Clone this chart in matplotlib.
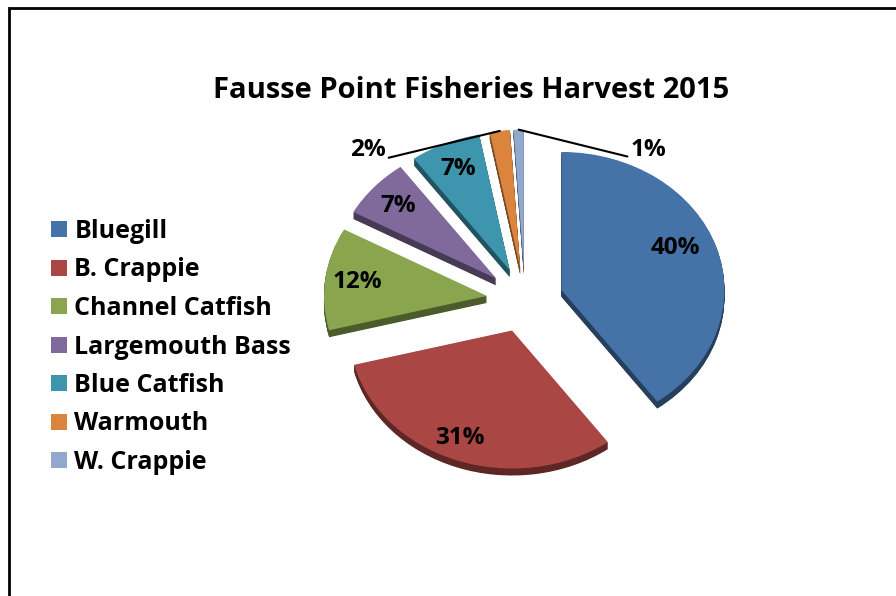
import matplotlib
matplotlib.use("Agg")
import matplotlib.pyplot as plt
from matplotlib.colors import to_rgb
import numpy as np

# Harvest composition (percent of total)
species = ["Bluegill", "B. Crappie", "Channel Catfish", "Largemouth Bass",
           "Blue Catfish", "Warmouth", "W. Crappie"]
harvest_pct = [40, 31, 12, 7, 7, 2, 1]
colors = ["#4572A7", "#AA4643", "#89A54E", "#80699B", "#3D96AE", "#DB843D", "#92A8CD"]
title = "Fausse Point Fisheries Harvest 2015"

FONT = ["Open Sans", "DejaVu Sans"]
W, H = 896, 596
fig = plt.figure(figsize=(W / 100, H / 100), dpi=100)

# Outer frame (pixel coordinates)
bg = fig.add_axes([0, 0, 1, 1])
bg.set_xlim(0, W)
bg.set_ylim(H, 0)
bg.axis("off")
bg.plot([8.5, 8.5, W + 5], [H + 5, 7.5, 7.5], color="black", lw=2.0,
        solid_joinstyle="miter")

bg.text(471, 90, title, ha="center", va="center", fontsize=21,
        fontweight="bold", family=FONT)

# Tilted, exploded pie: an axes with unequal x/y scale squashes the circle
cx, cy = 525, 300      # pie centre in pixels
rx, ry = 163, 138      # horizontal / vertical radius in pixels
lim = 1.6
ax = fig.add_axes([(cx - rx * lim) / W, (H - cy - ry * lim) / H,
                   2 * rx * lim / W, 2 * ry * lim / H])
explode = [0.235] * len(harvest_pct)

# Side walls: stacked darker copies shifted downward
depth = 7 / ry
nlayers = 12
side_colors = [tuple(np.array(to_rgb(c)) * 0.55) for c in colors]
for i in range(nlayers, 0, -1):
    ax.pie(harvest_pct, startangle=90, counterclock=False, explode=explode,
           colors=side_colors, center=(0, -depth * i / nlayers))

wedges, texts, autotexts = ax.pie(
    harvest_pct, startangle=90, counterclock=False, explode=explode,
    colors=colors, autopct=lambda p: f"{p:.0f}%" if p >= 5 else "",
    pctdistance=0.8,
    textprops=dict(fontsize=17.5, fontweight="bold", family=FONT, color="black"))

# Nudge the two large-slice labels
autotexts[0].set_position((0.92, 0.375))
autotexts[1].set_position((-0.40, -1.0))

ax.set_aspect("auto")
ax.set_xlim(-lim, lim)
ax.set_ylim(-lim, lim)
ax.axis("off")

# Small slices: labels outside with leader lines
total = float(sum(harvest_pct))
bounds = 90 - 360 * np.cumsum([0] + harvest_pct) / total
for idx, txt_xy, rel in [(5, (-0.963, 1.087), (1.0, 0.15)),
                         (6, (0.755, 1.087), (0.0, 0.2))]:
    mid = np.deg2rad((bounds[idx] + bounds[idx + 1]) / 2)
    r = 1 + explode[idx]
    tip = (r * np.cos(mid), r * np.sin(mid))
    ax.annotate(f"{harvest_pct[idx] / total * 100:.0f}%", xy=tip, xytext=txt_xy,
                ha="center", va="center", fontsize=17.5, fontweight="bold",
                family=FONT,
                arrowprops=dict(arrowstyle="-", color="black", lw=1.5,
                                relpos=rel, shrinkA=0, shrinkB=0))

fig.legend(wedges, species, loc="upper left", bbox_to_anchor=(51 / W, 1 - 219 / H),
           frameon=False, borderpad=0, borderaxespad=0, handlelength=0.62,
           handleheight=0.62, handletextpad=0.32, labelspacing=0.54,
           prop=dict(size=18, weight="bold", family=FONT))

fig.savefig("out.png", dpi=100)
